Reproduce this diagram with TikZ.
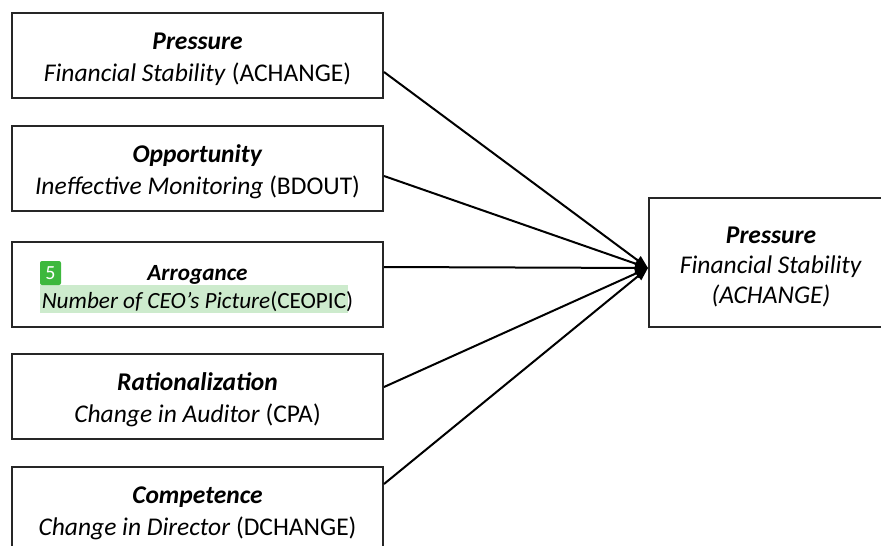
\documentclass[tikz,border=0pt]{standalone}
\usepackage{fontspec}
\setmainfont{Carlito}
\usetikzlibrary{arrows.meta,calc}
\definecolor{hl}{HTML}{CDEBCD}
\definecolor{badge}{HTML}{3DB83D}
\begin{document}
\begin{tikzpicture}[x=1pt,y=-1pt,
  boxframe/.style={draw=black!85,line width=2pt,minimum width=371pt,minimum height=85pt,inner sep=0pt},
  boxtext/.style={inner sep=0pt,align=center,font=\fontsize{25.5}{32}\selectfont},
  conn/.style={line width=2pt,-{Triangle[length=13pt,width=10pt]}}]
\useasboundingbox (0,0) rectangle (881,546);
% highlight behind arrogance text
\fill[hl] (40,285) rectangle (348,313);
\node[boxframe] (b1) at (197.5,55.5) {};
\node[boxframe] (b2) at (197.5,168.5) {};
\node[boxframe] (b3) at (197.5,284.5) {};
\node[boxframe] (b4) at (197.5,396.5) {};
\node[boxframe] (b5) at (197.5,509.5) {};
\node[boxtext] (t1) at ($(b1.center)+(0,3.5)$) {\textbf{\textit{Pressure}}\\\textit{Financial Stability} (ACHANGE)};
\node[boxtext] (t2) at ($(b2.center)+(0,3.5)$) {\textbf{\textit{Opportunity}}\\\textit{Ineffective Monitoring} (BDOUT)};
\node[boxtext,font=\fontsize{23.2}{28}\selectfont] (t3) at ($(b3.center)+(0,4)$) {\textbf{\textit{Arrogance}}\\\textit{Number of CEO’s Picture}(CEOPIC)};
\node[boxtext] (t4) at ($(b4.center)+(0,3.5)$) {\textbf{\textit{Rationalization}}\\\textit{Change in Auditor} (CPA)};
\node[boxtext] (t5) at ($(b5.center)+(0,3.5)$) {\textbf{\textit{Competence}}\\\textit{Change in Director} (DCHANGE)};
\node[draw=black!85,line width=2pt,minimum width=244pt,minimum height=129pt,inner sep=0pt] (t) at (771,262.5) {};
\node[inner sep=0pt,align=center,font=\fontsize{25.5}{30}\selectfont] (tt) at ($(t.center)+(0,4.5)$)
  {\textbf{\textit{Pressure}}\\\textit{Financial Stability}\\\textit{(ACHANGE)}};
\node[fill=badge,rounded corners=2pt,text=white,minimum width=21pt,minimum height=24pt,
  inner sep=0pt,font=\fontsize{20}{20}\selectfont] (badge5) at (50.5,273) {5};
\coordinate (s1) at ($(b1.north east)+(0,60)$);
\coordinate (s2) at ($(b2.north east)+(0,51)$);
\coordinate (s3) at ($(b3.north east)+(0,26)$);
\coordinate (s4) at ($(b4.north east)+(0,34)$);
\coordinate (s5) at ($(b5.north east)+(0,18)$);
\coordinate (tip) at ($(t.west)+(0,5.5)$);
\foreach \s in {s1,s2,s3,s4,s5} \draw[conn] (\s) -- (tip);
\end{tikzpicture}
\end{document}
